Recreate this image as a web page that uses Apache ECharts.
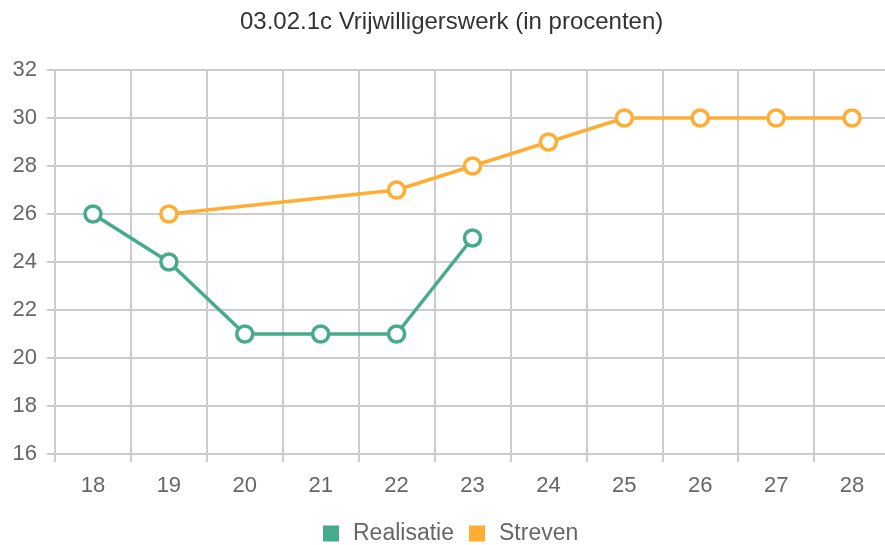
<!DOCTYPE html>
<html>
<head>
<meta charset="utf-8">
<script src="https://cdn.jsdelivr.net/npm/echarts@6/dist/echarts.min.js"></script>
<style>
  html, body { margin: 0; padding: 0; background: #fff; }
  #chart { width: 885px; height: 545px; }
</style>
</head>
<body>
<div id="chart"></div>
<script>
const years = ['18', '19', '20', '21', '22', '23', '24', '25', '26', '27', '28']
const realisatie = [26, 24, 21, 21, 21, 25, null, null, null, null, null]
const streven = [null, 26, null, null, 27, 28, 29, 30, 30, 30, 30]

const green = '#46ab8c'
const orange = '#ffad33'

const chart = echarts.init(document.getElementById('chart'))

const lineSeries = (name, data, color) => ({
  name: name,
  type: 'line',
  data: data,
  connectNulls: true,
  symbol: 'circle',
  symbolSize: 16,
  lineStyle: { width: 3.5, color: color },
  itemStyle: { color: '#fff', borderColor: color, borderWidth: 3.5 }
})

chart.setOption({
  animation: false,
  textStyle: { fontFamily: 'Liberation Sans, Arial, sans-serif' },
  title: {
    text: '03.02.1c Vrijwilligerswerk (in procenten)',
    left: 235,
    top: 5,
    textStyle: { fontSize: 24, fontWeight: 'normal', color: '#333' }
  },
  legend: {
    top: 517,
    left: 318,
    icon: 'rect',
    itemWidth: 16,
    itemHeight: 16,
    itemGap: 15,
    textStyle: { fontSize: 23, color: '#666', padding: [0, 0, 0, 9] },
    data: [
      { name: 'Realisatie', itemStyle: { color: green, borderWidth: 0 } },
      { name: 'Streven', itemStyle: { color: orange, borderWidth: 0 } }
    ]
  },
  grid: { left: 55, width: 835, top: 70, bottom: 91, containLabel: false, outerBoundsMode: 'none' },
  xAxis: {
    type: 'category',
    data: years,
    boundaryGap: true,
    axisLine: { lineStyle: { color: '#ccc', width: 2 } },
    axisTick: { show: true, length: 8, lineStyle: { color: '#ccc', width: 2 } },
    axisLabel: { fontSize: 22, color: '#666', margin: 21 },
    splitLine: { show: true, lineStyle: { color: '#ccc', width: 2 } }
  },
  yAxis: {
    type: 'value',
    min: 16,
    max: 32,
    interval: 2,
    axisLine: { show: false },
    axisTick: { show: true, length: 8, lineStyle: { color: '#ccc', width: 2 } },
    axisLabel: { fontSize: 22, color: '#666', margin: 18 },
    splitLine: { show: true, lineStyle: { color: '#ccc', width: 2 } }
  },
  series: [
    lineSeries('Realisatie', realisatie, green),
    lineSeries('Streven', streven, orange)
  ]
})
</script>
</body>
</html>
